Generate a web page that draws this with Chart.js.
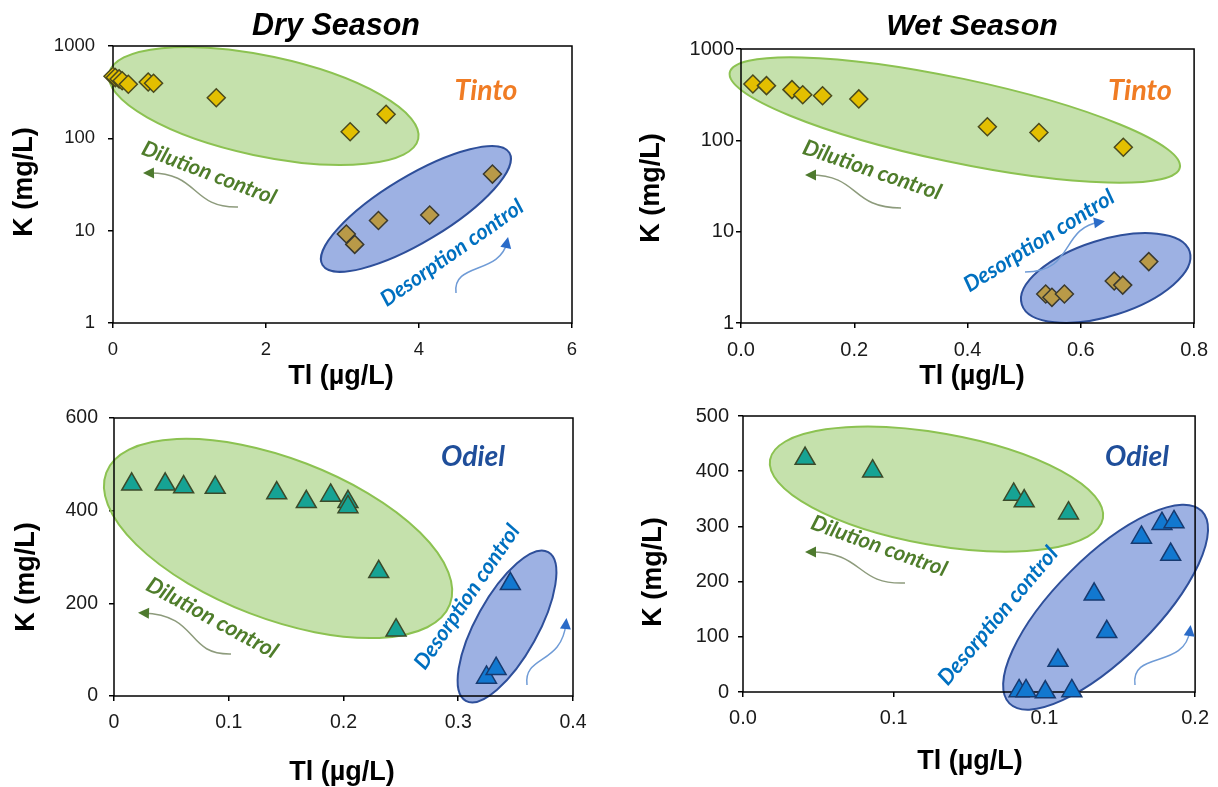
<!DOCTYPE html>
<html>
<head>
<meta charset="utf-8">
<title>K vs Tl - Tinto and Odiel</title>
<script src="https://cdn.jsdelivr.net/npm/chart.js@4.4.1/dist/chart.umd.min.js"></script>
<style>
    html, body { margin: 0; padding: 0; background: #fff; }
    #page { position: relative; width: 1218px; height: 787px; overflow: hidden; }
    #page canvas { position: absolute; }
</style>
</head>
<body>
<div id="page">
    <canvas id="dryTinto" width="609" height="390" style="left:0;top:0"></canvas>
    <canvas id="wetTinto" width="609" height="390" style="left:609px;top:0"></canvas>
    <canvas id="dryOdiel" width="609" height="397" style="left:0;top:390px"></canvas>
    <canvas id="wetOdiel" width="609" height="397" style="left:609px;top:390px"></canvas>
</div>
<script>
// ---- Dry season, Tinto (K on log axis) ----
const dryTintoDilutionTl = [0.0, 0.03, 0.08, 0.12, 0.2, 0.46, 0.53, 1.35, 3.1, 3.57];
const dryTintoDilutionK = [470, 455, 440, 420, 385, 408, 395, 275, 118, 182];
const dryTintoDesorptionTl = [3.05, 3.16, 3.47, 4.14, 4.96];
const dryTintoDesorptionK = [9.2, 7.1, 12.9, 14.8, 41];
const dryTintoXTicks = [0, 2, 4, 6];
const dryTintoXLabels = ['0', '2', '4', '6'];

// ---- Wet season, Tinto (K on log axis) ----
const wetTintoDilutionTl = [0.021, 0.045, 0.09, 0.109, 0.144, 0.208, 0.435, 0.526, 0.675];
const wetTintoDilutionK = [414, 397, 359, 316, 308, 284, 141, 122, 84];
const wetTintoDesorptionTl = [0.538, 0.549, 0.571, 0.659, 0.674, 0.72];
const wetTintoDesorptionK = [2.08, 1.91, 2.08, 2.88, 2.6, 4.7];
const wetTintoXTicks = [0, 0.2, 0.4, 0.6, 0.8];
const wetTintoXLabels = ['0.0', '0.2', '0.4', '0.6', '0.8'];

// log K ticks shared by both Tinto panels
const logKTicks = [1, 10, 100, 1000];
const logKLabels = ['1', '10', '100', '1000'];

// ---- Dry season, Odiel ----
const dryOdielDilutionTl = [0.0154, 0.0446, 0.0607, 0.0882, 0.1418, 0.1676, 0.1888, 0.2039, 0.2039, 0.2307, 0.2458];
const dryOdielDilutionK = [457, 457, 451, 450, 438, 419, 433, 419, 408, 268, 142];
const dryOdielDesorptionTl = [0.3246, 0.333, 0.3454];
const dryOdielDesorptionK = [40, 59, 242];
const dryOdielXTicks = [0, 0.1, 0.2, 0.3, 0.4];
const dryOdielXLabels = ['0', '0.1', '0.2', '0.3', '0.4'];
const dryOdielYTicks = [0, 200, 400, 600];
const dryOdielYLabels = ['0', '200', '400', '600'];

// ---- Wet season, Odiel ----
const wetOdielDilutionTl = [0.0206, 0.043, 0.0898, 0.0933, 0.108];
const wetOdielDilutionK = [423, 400, 358, 346, 324];
const wetOdielDesorptionTl = [0.0916, 0.0939, 0.1003, 0.1091, 0.1045, 0.1207, 0.1165, 0.1322, 0.139, 0.143, 0.1419];
const wetOdielDesorptionK = [2, 2, 0, 2, 57, 109, 177, 280, 305, 308, 249];
const wetOdielXTicks = [0, 0.05, 0.1, 0.15];
const wetOdielXLabels = ['0.0', '0.1', '0.1', '0.2'];
const wetOdielYTicks = [0, 100, 200, 300, 400, 500];
const wetOdielYLabels = ['0', '100', '200', '300', '400', '500'];

const AXIS_FONT = 'Liberation Sans';
const NOTE_FONT = 'Lato';

const GREEN_FILL = 'rgba(140, 195, 90, 0.5)';
const GREEN_EDGE = '#8cc251';
const BLUE_FILL = 'rgba(60, 100, 200, 0.5)';
const BLUE_EDGE = '#2e4f9a';

document.addEventListener('DOMContentLoaded', function() {
    Chart.defaults.animation = false;

    drawPanel('dryTinto', {
        log: true,
        xMin: 0, xMax: 6, xTicks: dryTintoXTicks, xLabels: dryTintoXLabels,
        yMin: 1, yMax: 1000, yTicks: logKTicks, yLabels: logKLabels,
        sets: [
            diamonds(dryTintoDilutionTl, dryTintoDilutionK, '#e3bf00', '#4a4a1e'),
            diamonds(dryTintoDesorptionTl, dryTintoDesorptionK, '#b99a48', '#3a3a30')
        ],
        box: { yw: 113, xh: 40, top: 46, right: 37, bottom: 27 },
        tickPad: { x: 11, y: 13 },
        tickSize: 18.5,
        decor: {
            ellipses: [
                { x: 1.97, y: 224, rx: 158, ry: 50, angle: 12, fill: GREEN_FILL, edge: GREEN_EDGE },
                { x: 3.96, y: 17.2, rx: 109, ry: 33, angle: -31, fill: BLUE_FILL, edge: BLUE_EDGE }
            ],
            arrows: [
                { pts: [[238, 207], [190, 208], [200, 172], [148, 173]], line: '#8d9b7c', head: '#4e7a2e' },
                { pts: [[456, 293], [452, 262], [500, 275], [507, 242]], line: '#6f9bd6', head: '#2a6bc8' }
            ],
            texts: [
                { t: 'Dry Season', x: 336, y: 27, w: 168, font: AXIS_FONT, style: 'italic bold', color: '#000' },
                { t: 'Tinto', x: 486, y: 91, w: 63, font: NOTE_FONT, style: 'italic bold', color: '#f07c24' },
                { t: 'Dilution control', x: 209, y: 173, w: 142, angle: 21, font: NOTE_FONT, style: 'italic bold', color: '#4f7d2b' },
                { t: 'Desorption control', x: 452, y: 253, w: 169, angle: -35, font: NOTE_FONT, style: 'italic bold', color: '#0070c0' },
                { t: 'Tl (µg/L)', x: 341, y: 377, size: 27, font: AXIS_FONT, style: 'bold', color: '#000' },
                { t: 'K (mg/L)', x: 25, y: 182, size: 27, angle: -90, font: AXIS_FONT, style: 'bold', color: '#000' }
            ]
        }
    });

    drawPanel('wetTinto', {
        log: true,
        xMin: 0, xMax: 0.8, xTicks: wetTintoXTicks, xLabels: wetTintoXLabels,
        yMin: 1, yMax: 1000, yTicks: logKTicks, yLabels: logKLabels,
        sets: [
            diamonds(wetTintoDilutionTl, wetTintoDilutionK, '#e3bf00', '#4a4a1e'),
            diamonds(wetTintoDesorptionTl, wetTintoDesorptionK, '#b99a48', '#3a3a30')
        ],
        box: { yw: 132, xh: 40, top: 49, right: 15, bottom: 27 },
        tickPad: { x: 10, y: 2 },
        tickSize: 20,
        decor: {
            ellipses: [
                { x: 0.3775, y: 167, rx: 230, ry: 42, angle: 11.9, fill: GREEN_FILL, edge: GREEN_EDGE },
                { x: 0.644, y: 3.11, rx: 88, ry: 38, angle: -17.5, fill: BLUE_FILL, edge: BLUE_EDGE }
            ],
            arrows: [
                { pts: [[292, 208], [241, 208], [251, 175], [201, 175]], line: '#8d9b7c', head: '#4e7a2e' },
                { pts: [[416, 272], [466, 272], [451, 228], [491, 222]], line: '#6f9bd6', head: '#2a6bc8' }
            ],
            texts: [
                { t: 'Wet Season', x: 363, y: 27, w: 172, font: AXIS_FONT, style: 'italic bold', color: '#000' },
                { t: 'Tinto', x: 531, y: 91, w: 64, font: NOTE_FONT, style: 'italic bold', color: '#f07c24' },
                { t: 'Dilution control', x: 263, y: 170, w: 145, angle: 18.8, font: NOTE_FONT, style: 'italic bold', color: '#4f7d2b' },
                { t: 'Desorption control', x: 430, y: 241, w: 173, angle: -32, font: NOTE_FONT, style: 'italic bold', color: '#0070c0' },
                { t: 'Tl (µg/L)', x: 363, y: 377, size: 27, font: AXIS_FONT, style: 'bold', color: '#000' },
                { t: 'K (mg/L)', x: 43, y: 188, size: 27, angle: -90, font: AXIS_FONT, style: 'bold', color: '#000' }
            ]
        }
    });

    drawPanel('dryOdiel', {
        log: false,
        xMin: 0, xMax: 0.4, xTicks: dryOdielXTicks, xLabels: dryOdielXLabels,
        yMin: 0, yMax: 600, yTicks: dryOdielYTicks, yLabels: dryOdielYLabels,
        sets: [
            triangles(dryOdielDilutionTl, dryOdielDilutionK, '#16a394', '#3b4a2a'),
            triangles(dryOdielDesorptionTl, dryOdielDesorptionK, '#1278d0', '#173a70')
        ],
        box: { yw: 114, xh: 40, top: 28, right: 36, bottom: 51 },
        tickPad: { x: 10, y: 11 },
        tickSize: 19.5,
        decor: {
            ellipses: [
                { x: 0.143, y: 340, rx: 184, ry: 80, angle: 21, fill: GREEN_FILL, edge: GREEN_EDGE },
                { x: 0.3425, y: 150, rx: 85, ry: 31, angle: -61, fill: BLUE_FILL, edge: BLUE_EDGE }
            ],
            arrows: [
                { pts: [[231, 264], [185, 265], [200, 225], [143, 223]], line: '#8d9b7c', head: '#4e7a2e' },
                { pts: [[527, 295], [523, 265], [562, 275], [566, 233]], line: '#6f9bd6', head: '#2a6bc8' }
            ],
            texts: [
                { t: 'Odiel', x: 473, y: 67, w: 64, font: NOTE_FONT, style: 'italic bold', color: '#1f4e9a' },
                { t: 'Dilution control', x: 212, y: 228, w: 146, angle: 28.5, font: NOTE_FONT, style: 'italic bold', color: '#4f7d2b' },
                { t: 'Desorption control', x: 467, y: 207, w: 170, angle: -55.7, font: NOTE_FONT, style: 'italic bold', color: '#0070c0' },
                { t: 'Tl (µg/L)', x: 342, y: 383, size: 27, font: AXIS_FONT, style: 'bold', color: '#000' },
                { t: 'K (mg/L)', x: 27, y: 187, size: 27, angle: -90, font: AXIS_FONT, style: 'bold', color: '#000' }
            ]
        }
    });

    drawPanel('wetOdiel', {
        log: false,
        xMin: 0, xMax: 0.15, xTicks: wetOdielXTicks, xLabels: wetOdielXLabels,
        yMin: 0, yMax: 500, yTicks: wetOdielYTicks, yLabels: wetOdielYLabels,
        sets: [
            triangles(wetOdielDilutionTl, wetOdielDilutionK, '#16a394', '#3b4a2a'),
            triangles(wetOdielDesorptionTl, wetOdielDesorptionK, '#1278d0', '#173a70')
        ],
        box: { yw: 134, xh: 40, top: 26, right: 14, bottom: 55 },
        tickPad: { x: 9, y: 9 },
        tickSize: 20,
        decor: {
            ellipses: [
                { x: 0.0642, y: 367.6, rx: 169, ry: 56, angle: 10, fill: GREEN_FILL, edge: GREEN_EDGE },
                { x: 0.1203, y: 153.6, rx: 136, ry: 50, angle: -45, fill: BLUE_FILL, edge: BLUE_EDGE }
            ],
            arrows: [
                { pts: [[296, 193], [246, 195], [256, 162], [201, 162]], line: '#8d9b7c', head: '#4e7a2e' },
                { pts: [[526, 295], [521, 260], [576, 280], [581, 240]], line: '#6f9bd6', head: '#2a6bc8' }
            ],
            texts: [
                { t: 'Odiel', x: 528, y: 67, w: 64, font: NOTE_FONT, style: 'italic bold', color: '#1f4e9a' },
                { t: 'Dilution control', x: 270, y: 156, w: 143, angle: 19.7, font: NOTE_FONT, style: 'italic bold', color: '#4f7d2b' },
                { t: 'Desorption control', x: 389, y: 226, w: 173, angle: -50, font: NOTE_FONT, style: 'italic bold', color: '#0070c0' },
                { t: 'Tl (µg/L)', x: 361, y: 372, size: 27, font: AXIS_FONT, style: 'bold', color: '#000' },
                { t: 'K (mg/L)', x: 45, y: 182, size: 27, angle: -90, font: AXIS_FONT, style: 'bold', color: '#000' }
            ]
        }
    });
});

function toPoints(xs, ys) {
    return xs.map((x, i) => ({ x: x, y: ys[i] }));
}

function diamonds(xs, ys, fill, edge) {
    return {
        data: toPoints(xs, ys),
        pointStyle: 'rectRot',
        pointRadius: 9,
        backgroundColor: fill,
        borderColor: edge,
        borderWidth: 1.5,
        clip: false
    };
}

function triangles(xs, ys, fill, edge) {
    return {
        data: toPoints(xs, ys),
        pointStyle: 'triangle',
        pointRadius: 11.5,
        backgroundColor: fill,
        borderColor: edge,
        borderWidth: 1.5,
        clip: false
    };
}

// Ellipses and frame go under the markers, labels and arrows on top
function decorPlugin(decor) {
    return {
        id: 'panelDecor',
        beforeDatasetsDraw(chart) {
            const ctx = chart.ctx;
            const xs = chart.scales.x;
            const ys = chart.scales.y;
            decor.ellipses.forEach(e => {
                ctx.save();
                ctx.beginPath();
                ctx.ellipse(xs.getPixelForValue(e.x), ys.getPixelForValue(e.y), e.rx, e.ry,
                    e.angle * Math.PI / 180, 0, Math.PI * 2);
                ctx.fillStyle = e.fill;
                ctx.fill();
                ctx.lineWidth = 2;
                ctx.strokeStyle = e.edge;
                ctx.stroke();
                ctx.restore();
            });
            const a = chart.chartArea;
            ctx.save();
            ctx.strokeStyle = '#000';
            ctx.lineWidth = 1.5;
            ctx.strokeRect(a.left, a.top, a.right - a.left, a.bottom - a.top);
            ctx.restore();
        },
        afterDatasetsDraw(chart) {
            const ctx = chart.ctx;
            decor.arrows.forEach(ar => drawArrow(ctx, ar));
            decor.texts.forEach(t => drawText(ctx, t));
        }
    };
}

function drawArrow(ctx, ar) {
    const p = ar.pts;
    ctx.save();
    ctx.beginPath();
    ctx.moveTo(p[0][0], p[0][1]);
    ctx.bezierCurveTo(p[1][0], p[1][1], p[2][0], p[2][1], p[3][0], p[3][1]);
    ctx.lineWidth = 1.5;
    ctx.strokeStyle = ar.line;
    ctx.stroke();

    // arrow head along the end tangent
    const ang = Math.atan2(p[3][1] - p[2][1], p[3][0] - p[2][0]);
    const tipX = p[3][0] + Math.cos(ang) * 5;
    const tipY = p[3][1] + Math.sin(ang) * 5;
    const baseX = p[3][0] - Math.cos(ang) * 6;
    const baseY = p[3][1] - Math.sin(ang) * 6;
    ctx.beginPath();
    ctx.moveTo(tipX, tipY);
    ctx.lineTo(baseX - Math.sin(ang) * 5.5, baseY + Math.cos(ang) * 5.5);
    ctx.lineTo(baseX + Math.sin(ang) * 5.5, baseY - Math.cos(ang) * 5.5);
    ctx.closePath();
    ctx.fillStyle = ar.head;
    ctx.fill();
    ctx.restore();
}

function drawText(ctx, t) {
    ctx.save();
    let size = t.size || 20;
    ctx.font = t.style + ' ' + size + 'px "' + t.font + '"';
    if (t.w) {
        // fit the text to the width
        size = size * t.w / ctx.measureText(t.t).width;
        ctx.font = t.style + ' ' + size.toFixed(1) + 'px "' + t.font + '"';
    }
    ctx.translate(t.x, t.y);
    if (t.angle) ctx.rotate(t.angle * Math.PI / 180);
    ctx.textAlign = 'center';
    ctx.textBaseline = 'middle';
    ctx.fillStyle = t.color;
    ctx.fillText(t.t, 0, 0);
    ctx.restore();
}

function axisOptions(min, max, tickVals, labels, pad, size, fixSize) {
    return {
        min: min,
        max: max,
        afterBuildTicks: function(scale) {
            scale.ticks = tickVals.map(v => ({ value: v }));
        },
        afterFit: fixSize,
        ticks: {
            autoSkip: false,
            maxRotation: 0,
            padding: pad,
            color: '#1a1a1a',
            font: { family: AXIS_FONT, size: size },
            callback: function(value, index) {
                return labels[index];
            }
        },
        grid: {
            drawOnChartArea: false,
            drawTicks: true,
            tickLength: 5,
            color: '#000',
            lineWidth: 1.5
        },
        border: { display: false }
    };
}

function drawPanel(canvasId, cfg) {
    const canvas = document.getElementById(canvasId);
    const b = cfg.box;

    const xAxis = axisOptions(cfg.xMin, cfg.xMax, cfg.xTicks, cfg.xLabels, cfg.tickPad.x, cfg.tickSize,
        function(scale) { scale.height = b.xh; });
    xAxis.type = 'linear';
    xAxis.position = 'bottom';

    const yAxis = axisOptions(cfg.yMin, cfg.yMax, cfg.yTicks, cfg.yLabels, cfg.tickPad.y, cfg.tickSize,
        function(scale) { scale.width = b.yw; });
    yAxis.type = cfg.log ? 'logarithmic' : 'linear';
    yAxis.position = 'left';

    new Chart(canvas, {
        type: 'scatter',
        data: { datasets: cfg.sets },
        options: {
            responsive: false,
            animation: false,
            devicePixelRatio: 1,
            layout: {
                padding: { left: 0, top: b.top, right: b.right, bottom: b.bottom }
            },
            plugins: {
                legend: { display: false },
                tooltip: { enabled: false }
            },
            scales: { x: xAxis, y: yAxis }
        },
        plugins: [decorPlugin(cfg.decor)]
    });
}
</script>
</body>
</html>
